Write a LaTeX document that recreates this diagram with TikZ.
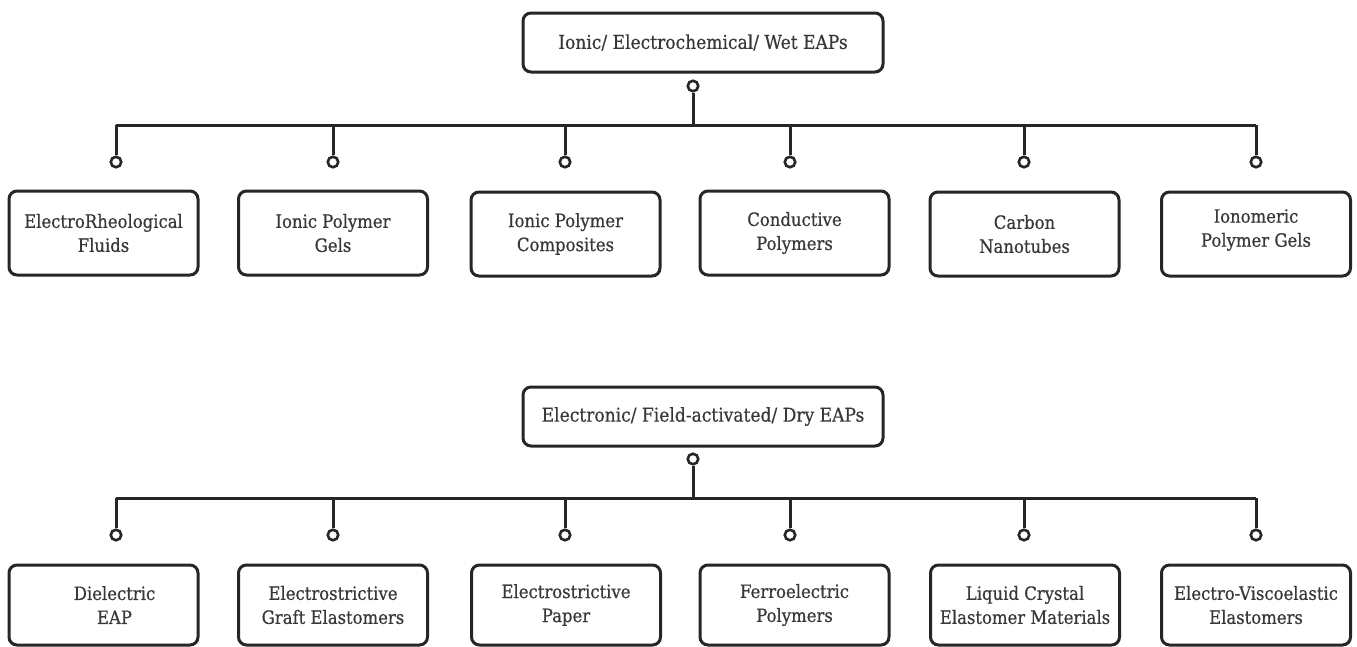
\documentclass[tikz,border=0pt]{standalone}
\usepackage{fontspec}
\setmainfont{DejaVu Serif}[FakeStretch=0.9, FakeBold=0.5]
\definecolor{ln}{HTML}{262626}
\definecolor{tx}{HTML}{383838}
\tikzset{
  catbox/.style={draw=ln, line width=3pt, rounded corners=8pt, fill=white,
    minimum width=360pt, minimum height=59pt, inner sep=0pt,
    font=\fontsize{19}{24}\selectfont, text=tx},
  leafbox/.style={draw=ln, line width=3pt, rounded corners=8pt, fill=white,
    minimum width=189pt, minimum height=84pt, inner sep=0pt, align=center,
    font=\fontsize{18.3}{24}\selectfont, text=tx},
  pin/.style={circle, draw=ln, line width=2.6pt, fill=white, minimum size=10.5pt, inner sep=0pt},
  wire/.style={draw=ln, line width=3pt}
}
\begin{document}
\begin{tikzpicture}[x=1pt,y=-1pt]
\useasboundingbox[fill=white] (0,0) rectangle (1357,646);

% ---------- group 1 ----------
\node[catbox] (top1) at (703,42.5) {Ionic/ Electrochemical/ Wet EAPs};
\node[pin] (tp1) at (693,86) {};
\coordinate (j1) at (693,125);
\coordinate (l1) at (116,125);
\coordinate (r1) at (1256,125);

\foreach \i/\x in {1/116,2/333,3/565,4/790,5/1024,6/1256}{
  \node[pin] (p1\i) at (\x,162) {};
  \coordinate (q1\i) at (\x,125);
}
\path[wire] (tp1) -- (j1);
\path[wire] (l1) -- (r1);
\foreach \i in {1,...,6}{ \path[wire] (q1\i) -- (p1\i); }

\node[leafbox] (a1) at (103.5,233) {ElectroRheological\\Fluids};
\node[leafbox] (a2) at (333,233) {Ionic Polymer\\Gels};
\node[leafbox] (a3) at (565.5,234) {Ionic Polymer\\Composites};
\node[leafbox] (a4) at (794.5,233) {Conductive\\Polymers};
\node[leafbox] (a5) at (1024.5,234) {Carbon\\Nanotubes};
\node[leafbox, text depth=12pt] (a6) at (1256,234) {Ionomeric\\Polymer Gels};

% ---------- group 2 ----------
\node[catbox] (top2) at (703,416.5) {Electronic/ Field-activated/ Dry EAPs};
\node[pin] (tp2) at (693,459) {};
\coordinate (j2) at (693,498);
\coordinate (l2) at (116,498);
\coordinate (r2) at (1256,498);

\foreach \i/\x in {1/116,2/333,3/565,4/790,5/1024,6/1256}{
  \node[pin] (p2\i) at (\x,535) {};
  \coordinate (q2\i) at (\x,498);
}
\path[wire] (tp2) -- (j2);
\path[wire] (l2) -- (r2);
\foreach \i in {1,...,6}{ \path[wire] (q2\i) -- (p2\i); }

\node[leafbox, minimum height=80pt] (b1) at (103.5,605) {\hspace*{22pt}Dielectric\\\hspace*{22pt}EAP};
\node[leafbox, minimum height=80pt] (b2) at (333,605) {Electrostrictive\\Graft Elastomers};
\node[leafbox, minimum height=80pt] (b3) at (566,605) {Electrostrictive\\Paper};
\node[leafbox, minimum height=80pt] (b4) at (794.5,605) {Ferroelectric\\Polymers};
\node[leafbox, minimum height=80pt] (b5) at (1025,605) {Liquid Crystal\\Elastomer Materials};
\node[leafbox, minimum height=80pt] (b6) at (1256,605) {Electro-Viscoelastic\\Elastomers};
\end{tikzpicture}
\end{document}
